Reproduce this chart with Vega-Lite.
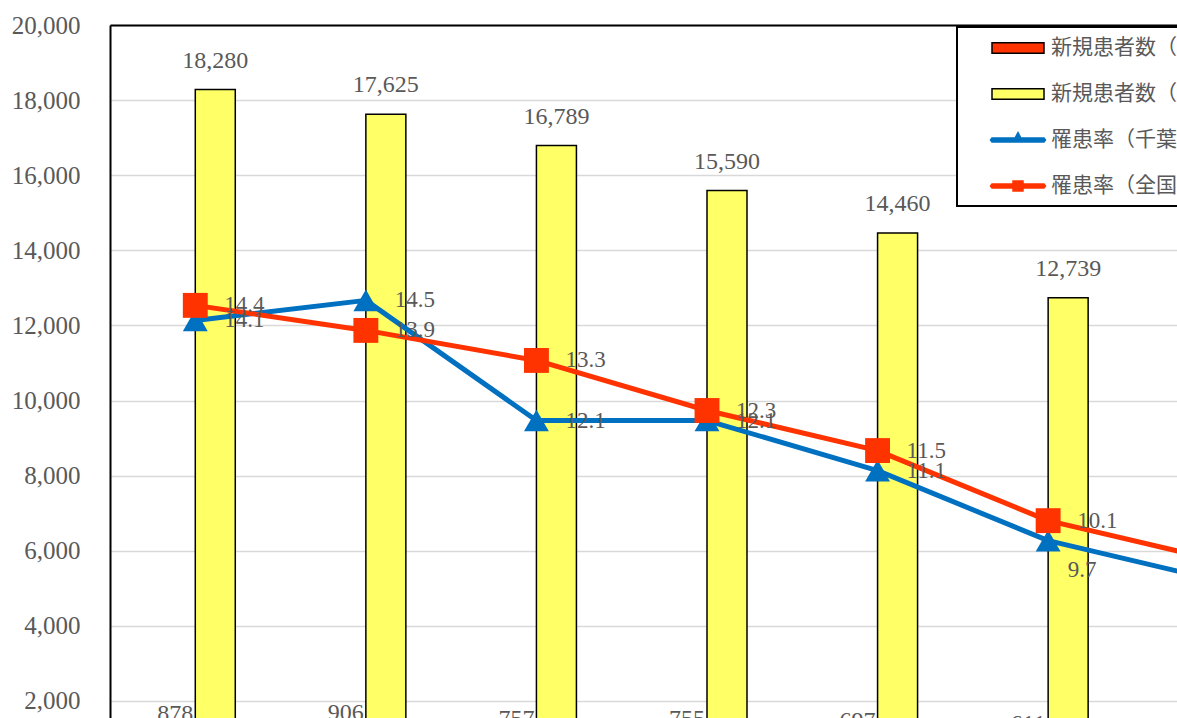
{
  "$schema": "https://vega.github.io/schema/vega-lite/v6.json",
  "width": 1067,
  "height": 693,
  "autosize": {"type": "none"},
  "padding": {"left": 110, "top": 25, "right": 0, "bottom": 0},
  "background": "white",
  "config": {"view": {"stroke": null}, "font": "Liberation Serif", "legend": {"strokeWidth": 2}},
  "data": {
    "values": [
      {"year": "2012", "series": "新規患者数（千葉県）", "value": 878},
      {"year": "2013", "series": "新規患者数（千葉県）", "value": 906},
      {"year": "2014", "series": "新規患者数（千葉県）", "value": 757},
      {"year": "2015", "series": "新規患者数（千葉県）", "value": 755},
      {"year": "2016", "series": "新規患者数（千葉県）", "value": 697},
      {"year": "2017", "series": "新規患者数（千葉県）", "value": 611},
      {"year": "2018", "series": "新規患者数（千葉県）", "value": 560},
      {"year": "2012", "series": "新規患者数（全国）", "value": 18280},
      {"year": "2013", "series": "新規患者数（全国）", "value": 17625},
      {"year": "2014", "series": "新規患者数（全国）", "value": 16789},
      {"year": "2015", "series": "新規患者数（全国）", "value": 15590},
      {"year": "2016", "series": "新規患者数（全国）", "value": 14460},
      {"year": "2017", "series": "新規患者数（全国）", "value": 12739},
      {"year": "2018", "series": "新規患者数（全国）", "value": 11500},
      {"year": "2012", "series": "罹患率（千葉県）", "value": 14.1},
      {"year": "2013", "series": "罹患率（千葉県）", "value": 14.5},
      {"year": "2014", "series": "罹患率（千葉県）", "value": 12.1},
      {"year": "2015", "series": "罹患率（千葉県）", "value": 12.1},
      {"year": "2016", "series": "罹患率（千葉県）", "value": 11.1},
      {"year": "2017", "series": "罹患率（千葉県）", "value": 9.7},
      {"year": "2018", "series": "罹患率（千葉県）", "value": 8.9},
      {"year": "2012", "series": "罹患率（全国）", "value": 14.4},
      {"year": "2013", "series": "罹患率（全国）", "value": 13.9},
      {"year": "2014", "series": "罹患率（全国）", "value": 13.3},
      {"year": "2015", "series": "罹患率（全国）", "value": 12.3},
      {"year": "2016", "series": "罹患率（全国）", "value": 11.5},
      {"year": "2017", "series": "罹患率（全国）", "value": 10.1},
      {"year": "2018", "series": "罹患率（全国）", "value": 9.3}
    ]
  },
  "encoding": {
    "x": {
      "field": "year", "type": "nominal", "sort": null,
      "scale": {"range": [0, 1194], "paddingInner": 0.531, "paddingOuter": 0.2655},
      "axis": {"orient": "top", "labels": false, "ticks": false, "title": null, "grid": false, "domainColor": "#000000", "domainWidth": 2}
    }
  },
  "layer": [
    {
      "transform": [{"filter": "indexof(datum.series, '新規患者数') == 0"}],
      "encoding": {
        "xOffset": {"field": "series", "type": "nominal", "scale": {"domain": ["新規患者数（千葉県）", "新規患者数（全国）"]}},
        "y": {
          "field": "value", "type": "quantitative",
          "scale": {"domain": [0, 20000], "range": [751, 0]},
          "axis": {
            "orient": "left", "title": null, "values": [0, 2000, 4000, 6000, 8000, 10000, 12000, 14000, 16000, 18000, 20000],
            "format": ",.0f", "ticks": false, "labelPadding": 30, "labelFontSize": 25, "labelColor": "#595959", "labelFont": "Liberation Serif",
            "domainColor": "#000000", "domainWidth": 2, "grid": true, "gridColor": "#D9D9D9", "gridWidth": 1.5
          }
        }
      },
      "layer": [
        {
          "mark": {"type": "bar", "stroke": "#000000", "strokeWidth": 1.5},
          "encoding": {
            "color": {
              "field": "series", "type": "nominal",
              "scale": {
                "domain": ["新規患者数（千葉県）", "新規患者数（全国）", "罹患率（千葉県）", "罹患率（全国）"],
                "range": ["#FF3300", "#FFFF66", "#0070C0", "#FF3300"]
              },
              "legend": {
                "orient": "none", "legendX": 847, "legendY": 2, "title": null,
                "strokeColor": "#000000", "fillColor": "#FFFFFF", "padding": 10,
                "labelFont": "Noto Sans CJK JP", "labelFontSize": 21, "labelColor": "#595959", "labelLimit": 500,
                "symbolSize": 400, "symbolOffset": 40, "labelOffset": 22, "rowPadding": 25,
                "symbolStrokeWidth": 1.5, "symbolOpacity": 1
              }
            }
          }
        },
        {
          "mark": {"type": "text", "baseline": "alphabetic", "dy": -22, "fontSize": 24, "color": "#595959", "font": "Liberation Serif"},
          "encoding": {"text": {"field": "value", "type": "quantitative", "format": ","}}
        }
      ]
    },
    {
      "transform": [{"filter": "indexof(datum.series, '罹患率') == 0"}],
      "encoding": {
        "y": {
          "field": "value", "type": "quantitative",
          "scale": {"domain": [5, 20], "range": [751, 0]},
          "axis": null
        }
      },
      "layer": [
        {
          "transform": [{"filter": "datum.series == '罹患率（千葉県）'"}],
          "mark": {"type": "line", "strokeWidth": 5, "strokeJoin": "round", "strokeCap": "round", "color": "#0070C0"},
          "encoding": {}
        },
        {
          "transform": [{"filter": "datum.series == '罹患率（全国）'"}],
          "mark": {"type": "line", "strokeWidth": 5, "strokeJoin": "round", "strokeCap": "round", "color": "#FF3300"},
          "encoding": {}
        },
        {
          "transform": [{"filter": "datum.series == '罹患率（千葉県）'"}],
          "mark": {"type": "point", "shape": "triangle-up", "filled": true, "opacity": 1, "size": 620, "color": "#0070C0"}
        },
        {
          "transform": [{"filter": "datum.series == '罹患率（全国）'"}],
          "mark": {"type": "point", "shape": "square", "filled": true, "opacity": 1, "size": 620, "color": "#FF3300"}
        },
        {
          "transform": [{"filter": "!(datum.series == '罹患率（千葉県）' && datum.year == '2017')"}],
          "mark": {"type": "text", "align": "left", "baseline": "middle", "dx": 29, "dy": 0, "fontSize": 23, "color": "#595959", "font": "Liberation Serif"},
          "encoding": {"text": {"field": "value", "type": "quantitative", "format": ".1f"}}
        },
        {
          "transform": [{"filter": "datum.series == '罹患率（千葉県）' && datum.year == '2017'"}],
          "mark": {"type": "text", "align": "center", "baseline": "middle", "dx": 34, "dy": 29, "fontSize": 23, "color": "#595959", "font": "Liberation Serif"},
          "encoding": {"text": {"field": "value", "type": "quantitative", "format": ".1f"}}
        }
      ]
    },
    {
      "transform": [{"filter": "false"}],
      "mark": {"type": "point", "filled": true, "opacity": 1, "size": 400, "strokeWidth": 1.5},
      "encoding": {
        "color": {"field": "series", "type": "nominal"},
        "stroke": {
          "field": "series", "type": "nominal",
          "scale": {
            "domain": ["新規患者数（千葉県）", "新規患者数（全国）", "罹患率（千葉県）", "罹患率（全国）"],
            "range": ["#000000", "#000000", "#0070C0", "#FF3300"]
          }
        },
        "shape": {
          "field": "series", "type": "nominal",
          "scale": {
            "domain": ["新規患者数（千葉県）", "新規患者数（全国）", "罹患率（千葉県）", "罹患率（全国）"],
            "range": [
              "M-2.6,-0.53H2.6V0.53H-2.6Z",
              "M-2.6,-0.53H2.6V0.53H-2.6Z",
              "M-2.6,-0.2H2.6L2.75,0L2.6,0.2H-2.6L-2.75,0ZM0,-0.75L0.5,0.2L-0.5,0.2Z",
              "M-2.6,-0.2H2.6L2.75,0L2.6,0.2H-2.6L-2.75,0ZM-0.5,-0.5H0.5V0.5H-0.5Z"
            ]
          }
        }
      }
    }
  ],
  "resolve": {"scale": {"y": "independent"}}
}
